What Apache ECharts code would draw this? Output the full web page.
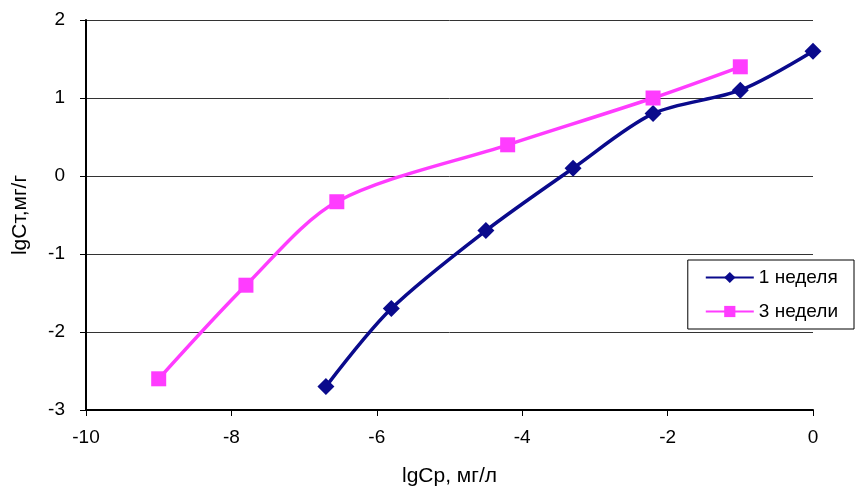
<!DOCTYPE html>
<html>
<head>
<meta charset="utf-8">
<script src="https://cdn.jsdelivr.net/npm/echarts@6/dist/echarts.min.js"></script>
<style>
  html, body { margin: 0; padding: 0; background: #fff; }
  #chart { width: 855px; height: 492px; }
</style>
</head>
<body>
<div id="chart"></div>
<script>
  // данные
  const week1X = [-6.7, -5.8, -4.5, -3.3, -2.2, -1.0, 0.0]
  const week1Y = [-2.7, -1.7, -0.7, 0.1, 0.8, 1.1, 1.6]
  const week3X = [-9.0, -7.8, -6.55, -4.2, -2.2, -1.0]
  const week3Y = [-2.6, -1.4, -0.33, 0.4, 1.0, 1.4]
  const seriesNames = ['1 неделя', '3 недели']

  const pairs = (xs, ys) => xs.map((x, i) => [x, ys[i]])

  const myChart = echarts.init(document.getElementById('chart'))
  const font = 'Liberation Sans, Arial, sans-serif'

  const option = {
    animation: false,
    backgroundColor: '#fff',
    textStyle: { fontFamily: font },
    grid: { left: 86, right: 42, top: 20, bottom: 81 },
    legend: {
      data: seriesNames,
      orient: 'vertical',
      right: 1,
      top: 260,
      itemWidth: 48,
      itemHeight: 14,
      itemGap: 15,
      padding: [8, 16, 8, 17],
      backgroundColor: '#fff',
      borderColor: '#000',
      borderWidth: 1,
      textStyle: { fontFamily: font, fontSize: 19, color: '#000' }
    },
    xAxis: {
      type: 'value',
      min: -10, max: 0, interval: 2,
      name: 'lgCp, мг/л',
      nameLocation: 'middle',
      nameGap: 56,
      nameTextStyle: { fontFamily: font, fontSize: 21, color: '#000' },
      axisLine: { onZero: false, lineStyle: { color: '#000', width: 2 } },
      axisTick: { show: true, length: 6, lineStyle: { color: '#000', width: 1 } },
      axisLabel: { fontFamily: font, fontSize: 19, color: '#000', margin: 18 },
      splitLine: { show: false }
    },
    yAxis: {
      type: 'value',
      min: -3, max: 2, interval: 1,
      name: 'lgCт,мг/г',
      nameLocation: 'middle',
      nameRotate: 90,
      nameGap: 55,
      nameTextStyle: { fontFamily: font, fontSize: 21, color: '#000' },
      axisLine: { onZero: false, lineStyle: { color: '#000', width: 2 } },
      axisTick: { show: true, length: 6, lineStyle: { color: '#000', width: 1 } },
      axisLabel: { fontFamily: font, fontSize: 19, color: '#000', margin: 21 },
      splitLine: { show: true, lineStyle: { color: '#333', width: 1 } }
    },
    series: [
      {
        name: seriesNames[0],
        type: 'line',
        data: pairs(week1X, week1Y),
        smooth: 0.3,
        symbol: 'diamond',
        symbolSize: 17,
        itemStyle: { color: '#0a0a8c' },
        lineStyle: { color: '#0a0a8c', width: 3.5 }
      },
      {
        name: seriesNames[1],
        type: 'line',
        data: pairs(week3X, week3Y),
        smooth: 0.3,
        symbol: 'rect',
        symbolSize: 15,
        itemStyle: { color: '#ff3cff' },
        lineStyle: { color: '#ff3cff', width: 3.5 }
      }
    ]
  }
  option && myChart.setOption(option)
</script>
</body>
</html>
